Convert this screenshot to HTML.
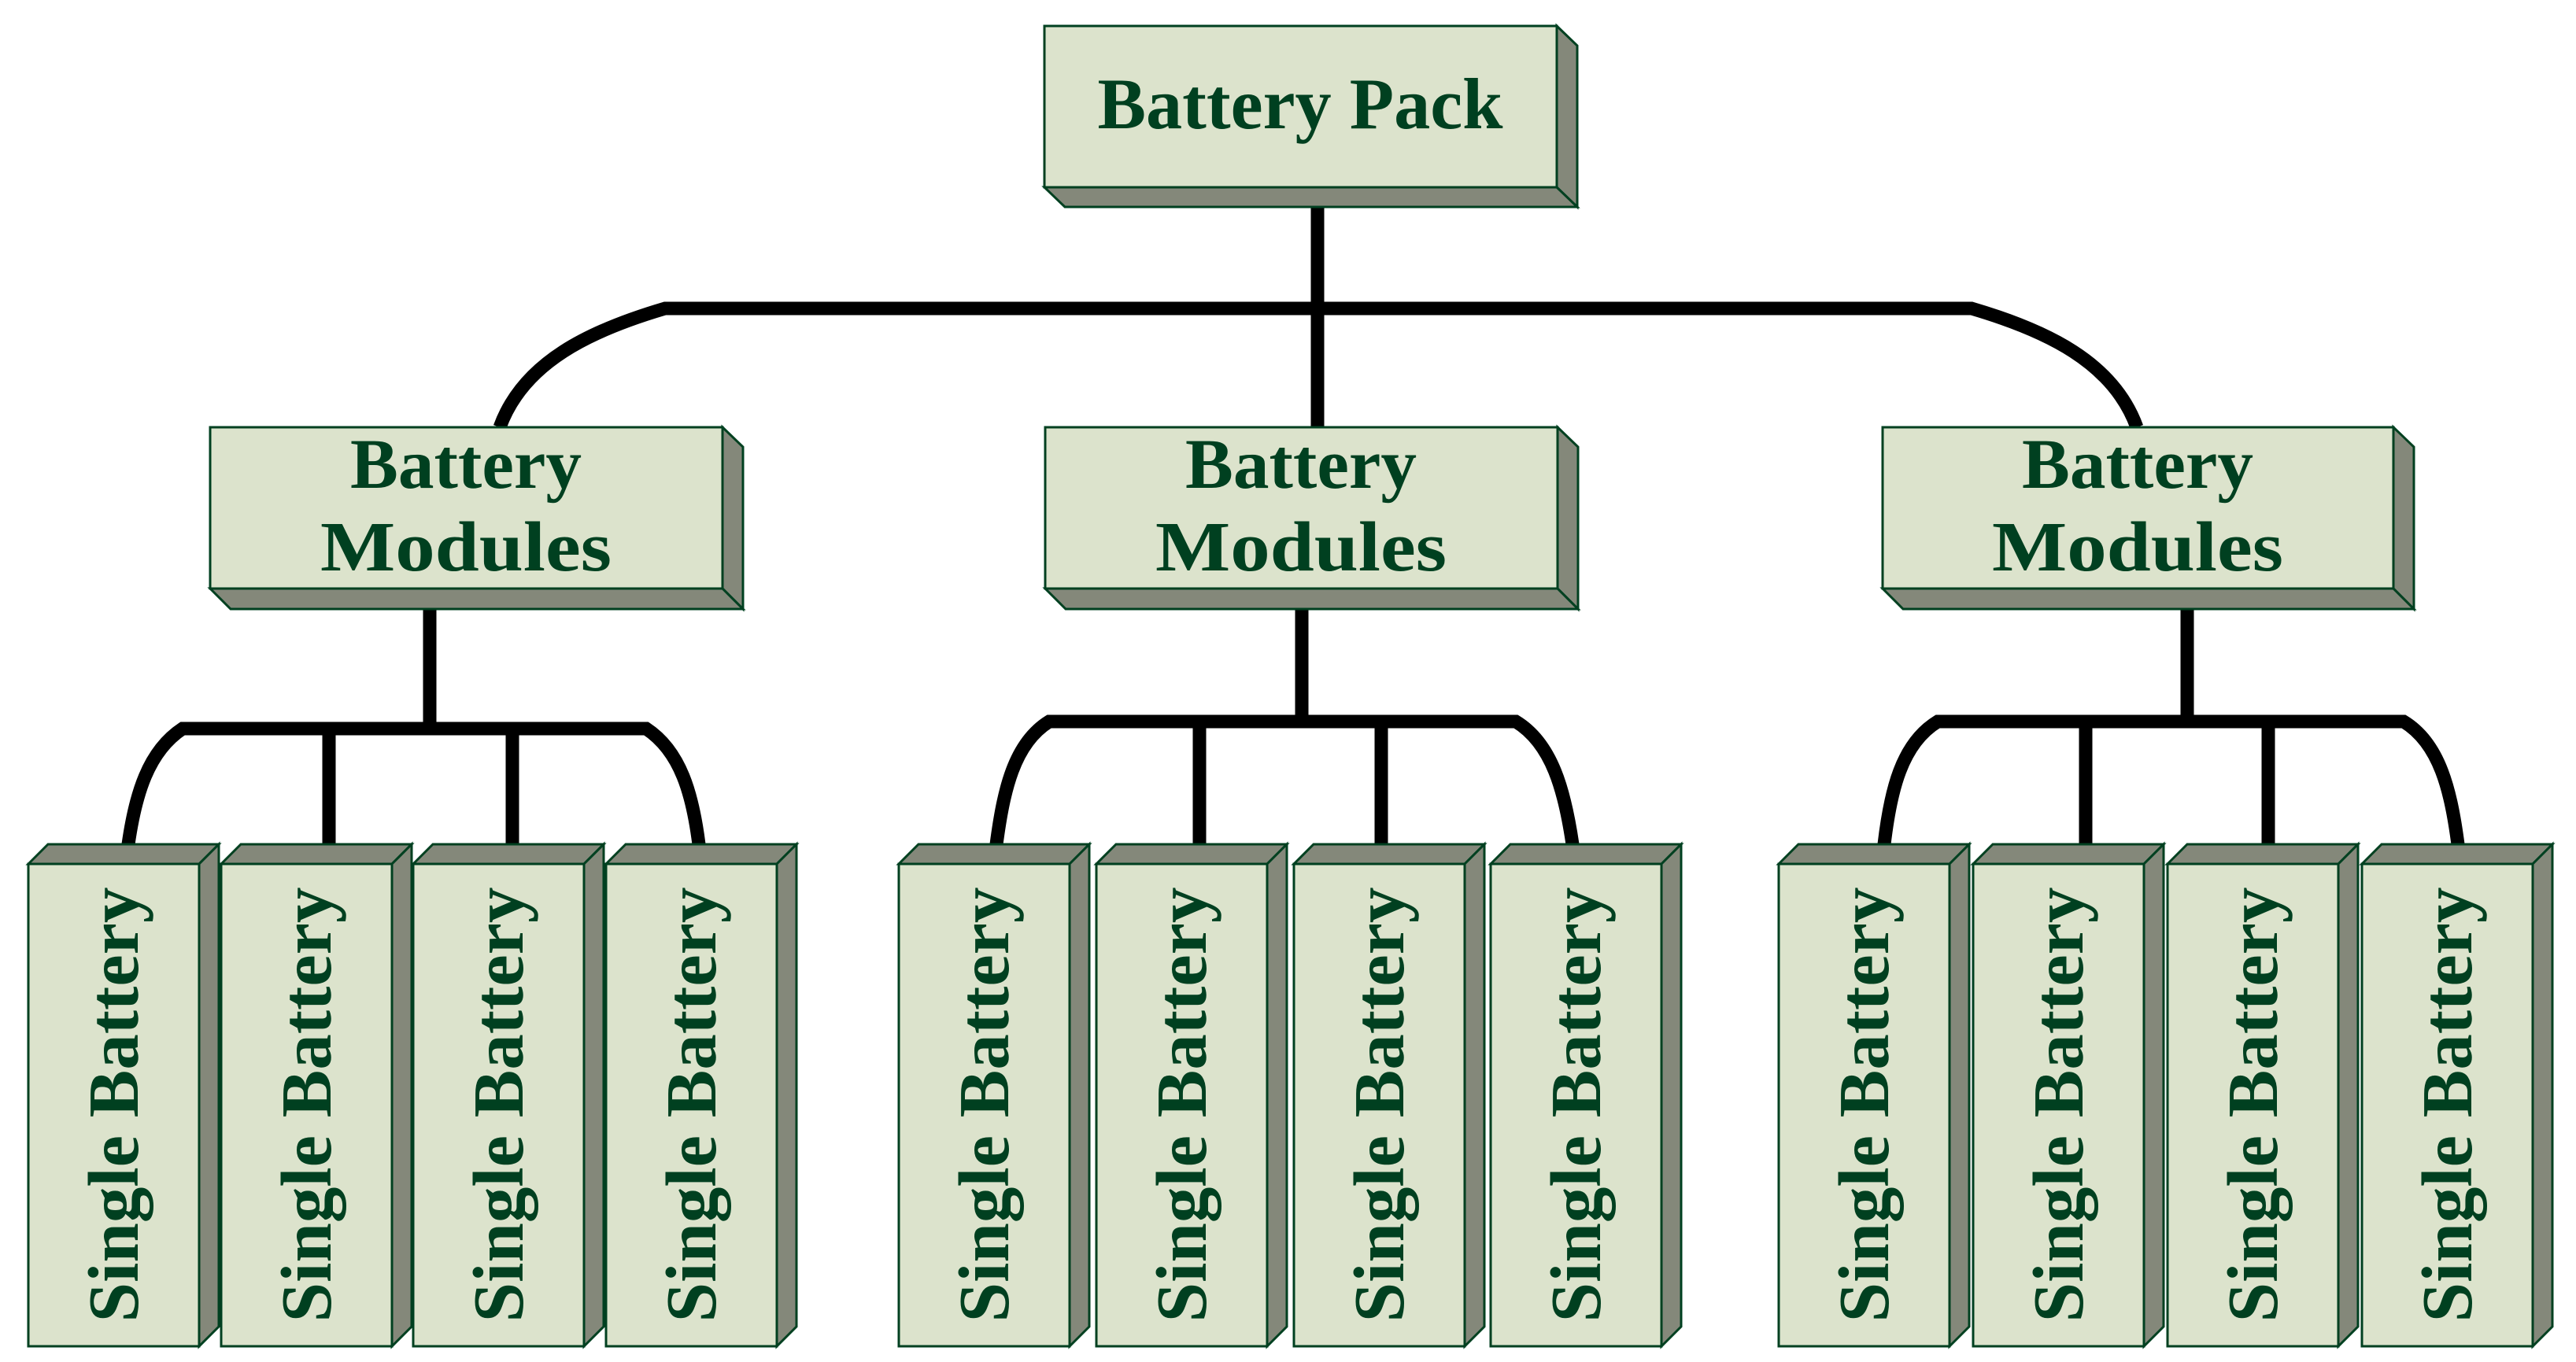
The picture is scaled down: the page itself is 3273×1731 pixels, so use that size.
<!DOCTYPE html>
<html><head><meta charset="utf-8"><style>
html,body{margin:0;padding:0;background:#fff;}
svg{display:block;}
text{font-family:"Liberation Serif",serif;font-weight:bold;fill:#004020;}
</style></head><body>
<svg width="3273" height="1731" viewBox="0 0 3273 1731" xmlns="http://www.w3.org/2000/svg">
<g stroke="#000" stroke-width="17" fill="none" stroke-linejoin="miter">
<line x1="1674" y1="238" x2="1674" y2="543"/>
<path d="M635,543 C665,460 750,420 845,392 L2505,392 C2600,420 2685,460 2715,543"/>
<line x1="546" y1="774" x2="546" y2="926"/>
<path d="M163,1073 C172,1010 188,955 232,926 L821,926 C865,955 880,1010 888,1073"/>
<line x1="418" y1="926" x2="418" y2="1073"/>
<line x1="651" y1="926" x2="651" y2="1073"/>
<line x1="1654" y1="774" x2="1654" y2="917"/>
<path d="M1266,1073 C1275,1005 1288,945 1333,917 L1926,917 C1972,945 1988,1005 1998,1073"/>
<line x1="1524" y1="917" x2="1524" y2="1073"/>
<line x1="1755" y1="917" x2="1755" y2="1073"/>
<line x1="2779" y1="774" x2="2779" y2="917"/>
<path d="M2394,1073 C2402,1005 2416,945 2462,917 L3054,917 C3100,945 3114,1005 3123,1073"/>
<line x1="2650" y1="917" x2="2650" y2="1073"/>
<line x1="2882" y1="917" x2="2882" y2="1073"/>
</g>
<g stroke="#004020" stroke-width="3" stroke-linejoin="miter">
<polygon points="1978,33 2004,58 2004,263 1978,238" fill="#84887a"/>
<polygon points="1327,238 1978,238 2004,263 1353,263" fill="#84887a"/>
<rect x="1327" y="33" width="651" height="205" fill="#dce3cc"/>
<polygon points="918,543 944,568 944,774 918,748" fill="#84887a"/>
<polygon points="267,748 918,748 944,774 293,774" fill="#84887a"/>
<rect x="267" y="543" width="651" height="205" fill="#dce3cc"/>
<polygon points="1979,543 2005,568 2005,774 1979,748" fill="#84887a"/>
<polygon points="1328,748 1979,748 2005,774 1354,774" fill="#84887a"/>
<rect x="1328" y="543" width="651" height="205" fill="#dce3cc"/>
<polygon points="3041,543 3067,568 3067,774 3041,748" fill="#84887a"/>
<polygon points="2392,748 3041,748 3067,774 2418,774" fill="#84887a"/>
<rect x="2392" y="543" width="649" height="205" fill="#dce3cc"/>
</g>
<text x="1652" y="163" font-size="92" text-anchor="middle" textLength="515" lengthAdjust="spacingAndGlyphs">Battery Pack</text>
<g font-size="90" text-anchor="middle" lengthAdjust="spacingAndGlyphs">
<text x="592" y="620" textLength="294" lengthAdjust="spacingAndGlyphs">Battery</text>
<text x="592" y="725" textLength="370" lengthAdjust="spacingAndGlyphs">Modules</text>
<text x="1653" y="620" textLength="294" lengthAdjust="spacingAndGlyphs">Battery</text>
<text x="1653" y="725" textLength="370" lengthAdjust="spacingAndGlyphs">Modules</text>
<text x="2716" y="620" textLength="294" lengthAdjust="spacingAndGlyphs">Battery</text>
<text x="2716" y="725" textLength="370" lengthAdjust="spacingAndGlyphs">Modules</text>
</g>
<g stroke="#004020" stroke-width="3">
<polygon points="36,1098 61,1073 278,1073 253,1098" fill="#84887a"/><polygon points="253,1098 278,1073 278,1686 253,1711" fill="#84887a"/><rect x="36" y="1098" width="217" height="613" fill="#dce3cc"/>
<polygon points="281,1098 306,1073 523,1073 498,1098" fill="#84887a"/><polygon points="498,1098 523,1073 523,1686 498,1711" fill="#84887a"/><rect x="281" y="1098" width="217" height="613" fill="#dce3cc"/>
<polygon points="525,1098 550,1073 767,1073 742,1098" fill="#84887a"/><polygon points="742,1098 767,1073 767,1686 742,1711" fill="#84887a"/><rect x="525" y="1098" width="217" height="613" fill="#dce3cc"/>
<polygon points="770,1098 795,1073 1012,1073 987,1098" fill="#84887a"/><polygon points="987,1098 1012,1073 1012,1686 987,1711" fill="#84887a"/><rect x="770" y="1098" width="217" height="613" fill="#dce3cc"/>
<polygon points="1142,1098 1167,1073 1384,1073 1359,1098" fill="#84887a"/><polygon points="1359,1098 1384,1073 1384,1686 1359,1711" fill="#84887a"/><rect x="1142" y="1098" width="217" height="613" fill="#dce3cc"/>
<polygon points="1393,1098 1418,1073 1635,1073 1610,1098" fill="#84887a"/><polygon points="1610,1098 1635,1073 1635,1686 1610,1711" fill="#84887a"/><rect x="1393" y="1098" width="217" height="613" fill="#dce3cc"/>
<polygon points="1644,1098 1669,1073 1886,1073 1861,1098" fill="#84887a"/><polygon points="1861,1098 1886,1073 1886,1686 1861,1711" fill="#84887a"/><rect x="1644" y="1098" width="217" height="613" fill="#dce3cc"/>
<polygon points="1894,1098 1919,1073 2136,1073 2111,1098" fill="#84887a"/><polygon points="2111,1098 2136,1073 2136,1686 2111,1711" fill="#84887a"/><rect x="1894" y="1098" width="217" height="613" fill="#dce3cc"/>
<polygon points="2260,1098 2285,1073 2502,1073 2477,1098" fill="#84887a"/><polygon points="2477,1098 2502,1073 2502,1686 2477,1711" fill="#84887a"/><rect x="2260" y="1098" width="217" height="613" fill="#dce3cc"/>
<polygon points="2507,1098 2532,1073 2749,1073 2724,1098" fill="#84887a"/><polygon points="2724,1098 2749,1073 2749,1686 2724,1711" fill="#84887a"/><rect x="2507" y="1098" width="217" height="613" fill="#dce3cc"/>
<polygon points="2754,1098 2779,1073 2996,1073 2971,1098" fill="#84887a"/><polygon points="2971,1098 2996,1073 2996,1686 2971,1711" fill="#84887a"/><rect x="2754" y="1098" width="217" height="613" fill="#dce3cc"/>
<polygon points="3001,1098 3026,1073 3243,1073 3218,1098" fill="#84887a"/><polygon points="3218,1098 3243,1073 3243,1686 3218,1711" fill="#84887a"/><rect x="3001" y="1098" width="217" height="613" fill="#dce3cc"/>
</g>
<g font-size="91" text-anchor="middle">
<text transform="translate(175,1404) rotate(-90)" textLength="553" lengthAdjust="spacingAndGlyphs">Single Battery</text>
<text transform="translate(420,1404) rotate(-90)" textLength="553" lengthAdjust="spacingAndGlyphs">Single Battery</text>
<text transform="translate(664,1404) rotate(-90)" textLength="553" lengthAdjust="spacingAndGlyphs">Single Battery</text>
<text transform="translate(909,1404) rotate(-90)" textLength="553" lengthAdjust="spacingAndGlyphs">Single Battery</text>
<text transform="translate(1281,1404) rotate(-90)" textLength="553" lengthAdjust="spacingAndGlyphs">Single Battery</text>
<text transform="translate(1532,1404) rotate(-90)" textLength="553" lengthAdjust="spacingAndGlyphs">Single Battery</text>
<text transform="translate(1783,1404) rotate(-90)" textLength="553" lengthAdjust="spacingAndGlyphs">Single Battery</text>
<text transform="translate(2033,1404) rotate(-90)" textLength="553" lengthAdjust="spacingAndGlyphs">Single Battery</text>
<text transform="translate(2399,1404) rotate(-90)" textLength="553" lengthAdjust="spacingAndGlyphs">Single Battery</text>
<text transform="translate(2646,1404) rotate(-90)" textLength="553" lengthAdjust="spacingAndGlyphs">Single Battery</text>
<text transform="translate(2893,1404) rotate(-90)" textLength="553" lengthAdjust="spacingAndGlyphs">Single Battery</text>
<text transform="translate(3140,1404) rotate(-90)" textLength="553" lengthAdjust="spacingAndGlyphs">Single Battery</text>
</g>
</svg>
</body></html>
